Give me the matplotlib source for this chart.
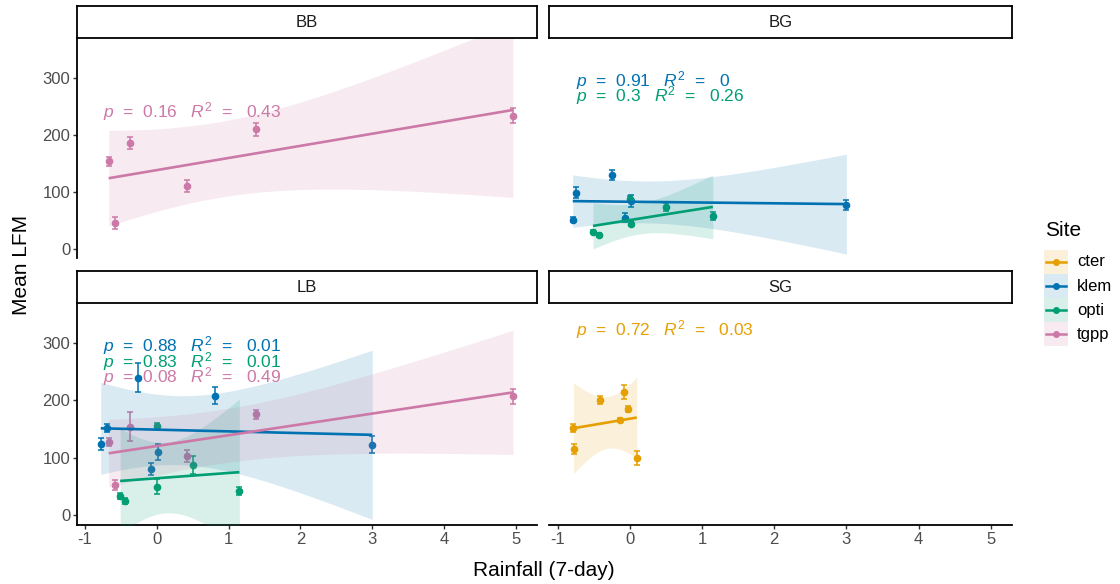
import numpy as np
import matplotlib
matplotlib.use("Agg")
import matplotlib.pyplot as plt
from matplotlib.patches import Rectangle

plt.rcParams['font.family'] = ['Liberation Sans', 'DejaVu Sans']
plt.rcParams['mathtext.fontset'] = 'custom'
plt.rcParams['mathtext.rm'] = 'Liberation Sans'
plt.rcParams['mathtext.it'] = 'Liberation Sans:italic'
plt.rcParams['axes.unicode_minus'] = False

sites = ['cter', 'klem', 'opti', 'tgpp']
site_colors = ['#E69F00', '#0072B2', '#009E73', '#CC79A7']
panels = ['BB', 'BG', 'LB', 'SG']

# mean LFM (+/- se) against 7-day rainfall, one list per panel/site
bb_tgpp_x = [-0.67, -0.58, -0.37, 0.42, 1.38, 4.96]
bb_tgpp_y = [153.5, 45, 186, 110, 210, 234]
bb_tgpp_err = [8.5, 11, 10, 10.5, 11.5, 13]

bg_klem_x = [-0.79, -0.75, -0.25, -0.07, 0.02, 3.0]
bg_klem_y = [51, 98.5, 129, 54.5, 83.7, 76.7]
bg_klem_err = [5, 10, 8.5, 8, 10, 8]

bg_opti_x = [-0.51, -0.43, 0.0, 0.01, 0.50, 1.15]
bg_opti_y = [30, 24, 88, 44, 73, 57]
bg_opti_err = [3, 3, 4, 4, 7, 7]

lb_klem_x = [-0.78, -0.695, -0.256, -0.075, 0.02, 0.815, 3.0]
lb_klem_y = [124, 152, 240, 80, 110, 208, 122.5]
lb_klem_err = [10.5, 7, 25, 10, 14.5, 15, 14.5]

lb_opti_x = [-0.51, -0.44, 0.0, 0.01, 0.50, 1.15]
lb_opti_y = [33, 24.5, 155, 49, 87, 41.5]
lb_opti_err = [5, 5, 6, 13, 15, 6.5]

lb_tgpp_x = [-0.67, -0.58, -0.37, 0.42, 1.38, 4.96]
lb_tgpp_y = [127, 52, 154, 103, 176, 207]
lb_tgpp_err = [6.7, 8, 25, 11, 8, 13]

sg_cter_x = [-0.78, -0.77, -0.41, -0.135, -0.083, -0.024, 0.097]
sg_cter_y = [151, 115, 201, 166, 215, 184.5, 99]
sg_cter_err = [7, 8, 7.5, 3, 12, 5, 12]

# regression stats printed in each panel
bb_tgpp_stats = ('0.16', '0.43')
bg_klem_stats = ('0.91', '0')
bg_opti_stats = ('0.3', '0.26')
lb_klem_stats = ('0.88', '0.01')
lb_opti_stats = ('0.83', '0.01')
lb_tgpp_stats = ('0.08', '0.49')
sg_cter_stats = ('0.72', '0.03')

series = [
    ('BB', 'tgpp', bb_tgpp_x, bb_tgpp_y, bb_tgpp_err, bb_tgpp_stats),
    ('BG', 'klem', bg_klem_x, bg_klem_y, bg_klem_err, bg_klem_stats),
    ('BG', 'opti', bg_opti_x, bg_opti_y, bg_opti_err, bg_opti_stats),
    ('LB', 'klem', lb_klem_x, lb_klem_y, lb_klem_err, lb_klem_stats),
    ('LB', 'opti', lb_opti_x, lb_opti_y, lb_opti_err, lb_opti_stats),
    ('LB', 'tgpp', lb_tgpp_x, lb_tgpp_y, lb_tgpp_err, lb_tgpp_stats),
    ('SG', 'cter', sg_cter_x, sg_cter_y, sg_cter_err, sg_cter_stats),
]

# t(0.975, df)
T975 = {1: 12.706, 2: 4.303, 3: 3.182, 4: 2.776, 5: 2.571, 6: 2.447,
        7: 2.365, 8: 2.306, 9: 2.262, 10: 2.228}


def lm_band(x, y):
    x = np.asarray(x, float)
    y = np.asarray(y, float)
    n = len(x)
    slope, icpt = np.polyfit(x, y, 1)
    xs = np.linspace(x.min(), x.max(), 100)
    fit = icpt + slope * xs
    resid = y - (icpt + slope * x)
    s = np.sqrt(np.sum(resid ** 2) / (n - 2))
    sxx = np.sum((x - x.mean()) ** 2)
    se = s * np.sqrt(1.0 / n + (xs - x.mean()) ** 2 / sxx)
    t = T975[n - 2]
    return xs, fit, fit - t * se, fit + t * se


W, H = 1120, 584
fig = plt.figure(figsize=(W / 100, H / 100), dpi=100)


def box(x0, y0, x1, y1):
    return [x0 / W, 1 - y1 / H, (x1 - x0) / W, (y1 - y0) / H]


panel_px = {
    'BB': (76.7, 38.3, 536.7, 258.3),
    'BG': (549.3, 38.3, 1011.7, 258.3),
    'LB': (76.7, 303.3, 536.7, 524.5),
    'SG': (549.3, 303.3, 1011.7, 524.5),
}
strip_h = 32

axes = {}
for i, name in enumerate(panels):
    x0, y0, x1, y1 = panel_px[name]
    ax = fig.add_axes(box(x0, y0, x1, y1))
    ax.set_xlim(-1.115, 5.29)
    ax.set_ylim(-17, 370)
    ax.set_xticks([-1, 0, 1, 2, 3, 4, 5])
    ax.set_yticks([0, 100, 200, 300])
    for sp in ax.spines.values():
        sp.set_visible(False)
    left = i % 2 == 0
    bottom = i >= 2
    ax.spines['left'].set_visible(left)
    ax.spines['bottom'].set_visible(bottom)
    ax.spines['left'].set_linewidth(1.3)
    ax.spines['bottom'].set_linewidth(1.3)
    ax.tick_params(length=3.2, width=1, color='#333333', labelcolor='#4D4D4D',
                   labelsize=12, pad=1.5)
    ax.tick_params(axis='x', pad=2.5, bottom=bottom, labelbottom=bottom)
    ax.tick_params(axis='y', left=left, labelleft=left)
    ax.patch.set_alpha(0)

    sax = fig.add_axes(box(x0, y0 - strip_h, x1, y0))
    sax.set_xticks([])
    sax.set_yticks([])
    for sp in sax.spines.values():
        sp.set_linewidth(1.3)
        sp.set_color('black')
    sax.text(0.5, 0.5, name, ha='center', va='center', fontsize=12,
             color='#1A1A1A', transform=sax.transAxes)
    axes[name] = ax

label_y = [314, 286, 258.5, 231]

for panel, site, x, y, err, (p, r2) in series:
    ax = axes[panel]
    k = sites.index(site)
    c = site_colors[k]
    ax.errorbar(x, y, yerr=err, fmt='o', color=c, ms=4.5, elinewidth=1.1,
                capsize=2.2, capthick=1.1, zorder=2)
    xs, fit, lo, hi = lm_band(x, y)
    ax.fill_between(xs, lo, hi, color=c, alpha=0.15, lw=0, zorder=3)
    ax.plot(xs, fit, color=c, lw=1.9, zorder=4, solid_capstyle='butt')
    ax.text(-0.75, label_y[k],
            r'$\mathit{p}$  =  ' + p + r'   $\mathit{R}^2$  =   ' + r2,
            color=c, fontsize=12.5, ha='left', va='baseline', zorder=5)

fig.text(21.7 / W, 1 - 265 / H, 'Mean LFM', rotation=90, ha='center',
         va='center', fontsize=15)
fig.text(544 / W, 1 - 571 / H, 'Rainfall (7-day)', ha='center',
         va='center', fontsize=15)

# legend: shaded key square with a line + point for each site
fig.text(1045 / W, 1 - 230 / H, 'Site', ha='left', va='center', fontsize=15)
lax = fig.add_axes(box(1044, 250, 1068, 346))
lax.set_xlim(0, 1)
lax.set_ylim(0, len(sites))
lax.axis('off')
for k, (s, c) in enumerate(zip(sites, site_colors)):
    yk = len(sites) - 1 - k
    lax.add_patch(Rectangle((0, yk), 1, 1, facecolor=c, alpha=0.15, lw=0))
    lax.plot([0.1, 0.9], [yk + 0.5, yk + 0.5], color=c, lw=1.8)
    lax.plot([0.5], [yk + 0.5], 'o', color=c, ms=4)
    fig.text(1077 / W, 1 - (262 + 24 * k) / H, s, ha='left', va='center',
             fontsize=12)

fig.savefig('out.png', dpi=100)
